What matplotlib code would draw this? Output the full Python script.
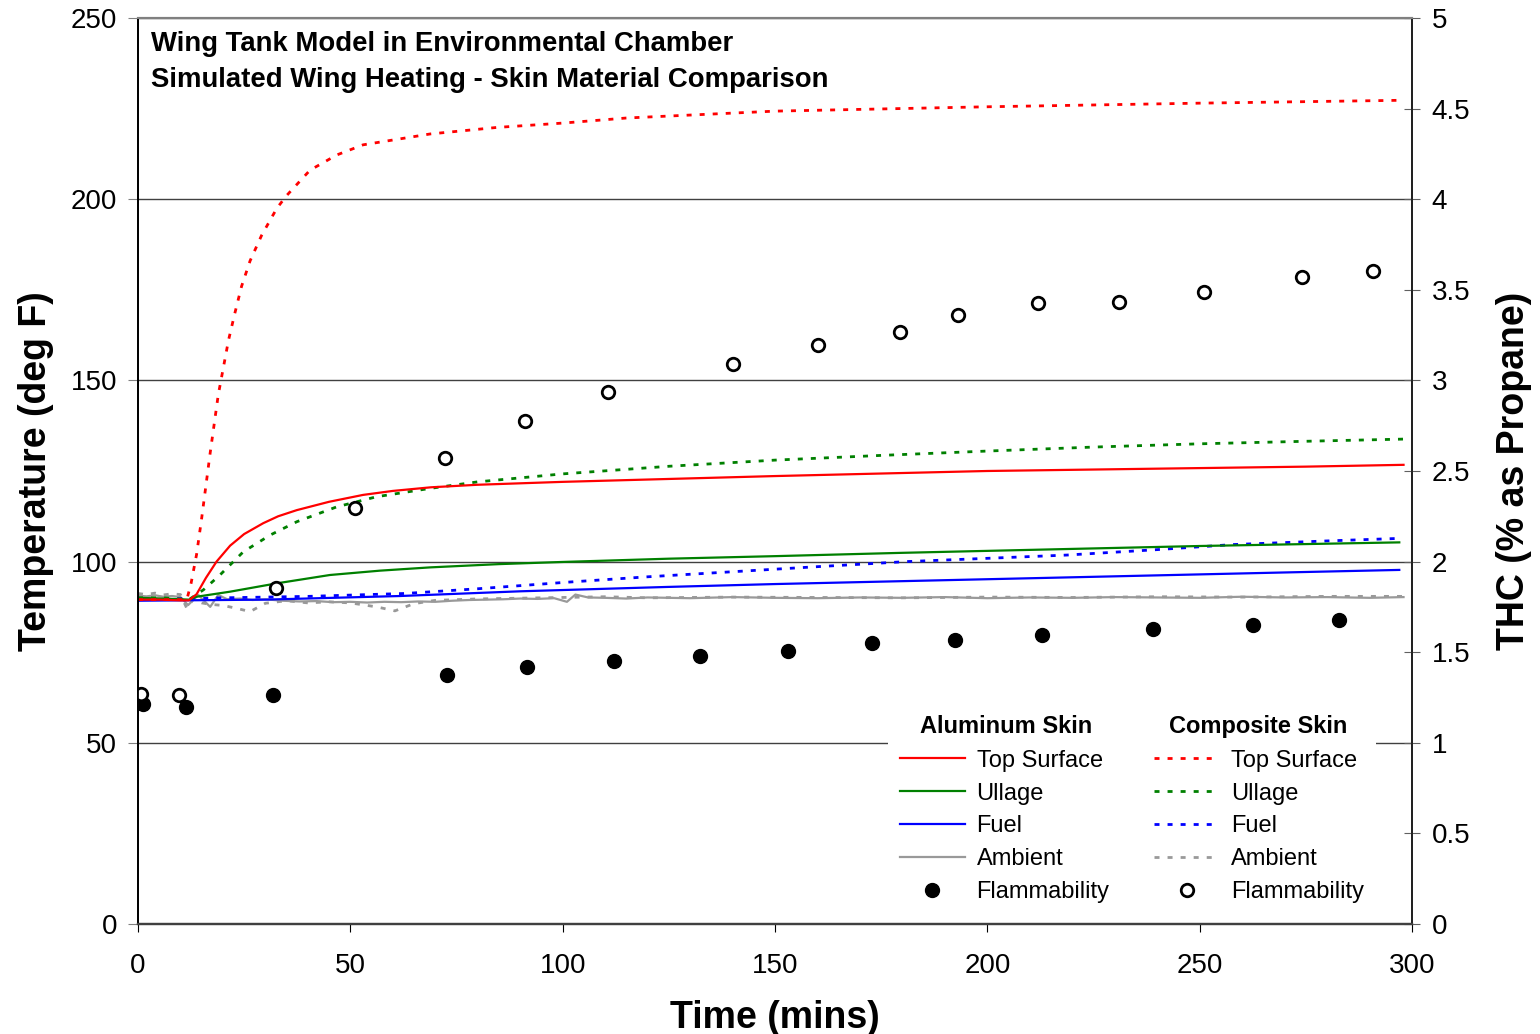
import numpy as np
from matplotlib import pyplot as plt
from matplotlib.lines import Line2D

plt.rcParams["font.family"] = ["Liberation Sans", "DejaVu Sans"]

# ---- data (time in mins, temperature in deg F, THC in %)
al_top_t = [0, 5, 10, 12, 13.8, 16, 18.5, 21.7, 25, 29.5, 33, 37.4, 45, 53, 60, 69, 80, 100, 125, 150, 175, 200, 225, 250, 275, 298]
al_top = [89.5, 89.5, 89.3, 89.3, 91, 95.5, 100, 104.4, 107.6, 110.6, 112.5, 114.2, 116.5, 118.4, 119.5, 120.5, 121.2, 122, 122.8, 123.6, 124.3, 125, 125.4, 125.8, 126.2, 126.7]

co_top_t = [0, 6, 11.5, 12.5, 13.8, 15, 16, 17, 18.9, 21.3, 22.8, 24.4, 26.4, 29.1, 32.7, 35, 40.5, 46.8, 53, 62.5, 68.8, 84.5, 100, 115, 150, 200, 250, 298]
co_top = [89.5, 89.5, 89.5, 94, 102, 112, 121, 130, 146, 161, 168.5, 176, 183, 190, 197.5, 201, 208, 212.2, 215, 216.8, 218, 219.8, 221, 222.4, 224.3, 225.5, 226.5, 227.3]

al_ull_t = [0, 6, 12, 13.8, 21.7, 32.7, 45.2, 57, 68.8, 85, 100, 125, 150, 179.4, 220, 250, 297]
al_ull = [90, 89.8, 89.5, 90.3, 91.7, 94, 96.3, 97.5, 98.4, 99.3, 99.9, 100.8, 101.5, 102.4, 103.5, 104.3, 105.3]

co_ull_t = [0, 6, 12, 15.4, 19.3, 24.8, 31.1, 37.4, 46.8, 56.2, 68.8, 80, 100, 125, 150, 175, 200, 225, 250, 275, 298]
co_ull = [90, 90, 89.5, 92.2, 96.3, 102.7, 107.3, 111, 115.1, 117.9, 120.2, 122, 124.2, 126.3, 128, 129.3, 130.5, 131.6, 132.5, 133.2, 133.8]

al_fuel_t = [0, 30, 61.7, 90, 124.5, 150, 180, 210, 240, 270, 297]
al_fuel = [89.2, 89.5, 90.5, 91.8, 93.0, 93.8, 94.6, 95.4, 96.2, 97.0, 97.7]

co_fuel_t = [0, 20, 40, 62.9, 80, 100.9, 120, 140, 160, 181, 200, 218.7, 240, 257.9, 280, 297]
co_fuel = [89.5, 90, 90.4, 91.2, 92.5, 94.3, 95.8, 97.2, 98.6, 100, 100.9, 101.8, 103.3, 104.7, 105.7, 106.4]

al_amb_t = [0, 2, 4, 6, 8, 10, 11.8, 14.2, 17, 18.9, 21, 24, 27, 30, 34, 38, 42, 46, 50, 54, 58, 62, 66, 70,
            74, 78, 82, 86, 90, 94, 98, 101, 103, 106, 110, 115, 120, 130, 140, 150, 160, 170, 180, 190,
            200, 210, 220, 230, 240, 250, 260, 270, 280, 290, 298]
al_amb = [90.6, 90.4, 90.7, 90.3, 90.5, 90.2, 88.0, 90.8, 87.5, 90.8, 89.6, 89.8, 89.4, 89.6, 89.2, 89.0, 89.1,
          88.8, 88.9, 88.7, 88.9, 88.8, 89.0, 88.9, 89.2, 89.4, 89.5, 89.6, 89.8, 89.7, 89.9, 88.9, 90.9,
          90.1, 90.0, 89.8, 90.1, 89.9, 90.2, 90.0, 89.9, 90.1, 90.0, 90.2, 89.9, 90.1, 90.0, 90.2, 90.1,
          90.0, 90.3, 90.1, 90.2, 90.0, 90.2]

co_amb_t = [0, 2, 4, 6, 8, 10, 11.5, 13, 15, 17, 20, 23.2, 26.4, 30, 35, 40, 45, 50, 56.2, 60.5, 65, 70, 75,
            80, 90, 100, 110, 120, 140, 160, 180, 200, 220, 240, 260, 280, 298]
co_amb = [91.2, 90.9, 91.3, 90.8, 91.1, 90.9, 87.1, 89.6, 88.6, 88.2, 87.9, 87.1, 86.2, 88.5, 89.2, 88.6, 88.9,
          88.6, 87.5, 86.4, 88.4, 89.3, 89.5, 89.7, 89.9, 90.1, 90.3, 90.0, 90.2, 90.1, 90.0, 90.2, 90.1,
          90.3, 90.2, 90.4, 90.4]

al_flam_t = [1.2, 11.3, 31.8, 72.8, 91.6, 112.1, 132.3, 153, 172.8, 192.4, 212.9, 239, 262.6, 282.8]
al_flam = [1.214, 1.198, 1.264, 1.374, 1.418, 1.452, 1.48, 1.506, 1.55, 1.568, 1.594, 1.628, 1.65, 1.678]

co_flam_t = [0.7, 9.7, 32.5, 51.1, 72.3, 91.1, 110.7, 140.1, 160.1, 179.4, 193.1, 211.9, 231, 251, 274.1, 290.8]
co_flam = [1.27, 1.264, 1.854, 2.296, 2.572, 2.776, 2.936, 3.09, 3.196, 3.268, 3.36, 3.428, 3.432, 3.488, 3.57, 3.604]

temp_ticks = [0, 50, 100, 150, 200, 250]
thc_ticks = [0, 0.5, 1, 1.5, 2, 2.5, 3, 3.5, 4, 4.5, 5]
time_ticks = [0, 50, 100, 150, 200, 250, 300]

RED, GREEN, BLUE, GREY = "#FF0000", "#008000", "#0000FF", "#999999"
DOT = (0, (1.8, 2.9))

fig = plt.figure(figsize=(15.4, 10.34), dpi=100)
ax = fig.add_axes([0.0896, 0.1064, 0.8273, 0.8762])
ax2 = ax.twinx()

# grid first so lines sit on top
ax.set_axisbelow(True)
ax.yaxis.grid(True, color="#404040", linewidth=1.0)

lw = 1.6
h_al_amb, = ax.plot(al_amb_t, al_amb, color=GREY, lw=lw)
h_co_amb, = ax.plot(co_amb_t, co_amb, color=GREY, lw=2.0, ls=DOT)
h_al_fuel, = ax.plot(al_fuel_t, al_fuel, color=BLUE, lw=lw)
h_co_fuel, = ax.plot(co_fuel_t, co_fuel, color=BLUE, lw=2.0, ls=DOT)
h_al_ull, = ax.plot(al_ull_t, al_ull, color=GREEN, lw=lw)
h_co_ull, = ax.plot(co_ull_t, co_ull, color=GREEN, lw=2.0, ls=DOT)
h_al_top, = ax.plot(al_top_t, al_top, color=RED, lw=lw)
h_co_top, = ax.plot(co_top_t, co_top, color=RED, lw=2.0, ls=DOT)

h_al_flam, = ax2.plot(al_flam_t, al_flam, ls="none", marker="o", ms=10, color="black")
h_co_flam, = ax2.plot(co_flam_t, co_flam, ls="none", marker="o", ms=9, mfc="white",
                      mec="black", mew=2)

ax.set_xlim(0, 300)
ax.set_ylim(0, 250)
ax2.set_ylim(0, 5)
ax.set_xticks(time_ticks)
ax.set_yticks(temp_ticks)
ax2.set_yticks(thc_ticks)
ax2.set_yticklabels([f"{v:g}" for v in thc_ticks])

ax.tick_params(axis="y", direction="out", length=7, color="#808080", labelsize=20, pad=8)
ax.tick_params(axis="x", direction="out", length=6, color="#000000", labelsize=20, pad=15)
ax2.tick_params(axis="y", direction="inout", length=12, color="#606060", labelsize=20, pad=8)

for a in (ax, ax2):
    a.spines["left"].set_color("black")
    a.spines["right"].set_color("#202020")
    a.spines["top"].set_color("#808080")
    a.spines["bottom"].set_color("#404040")
    a.spines["left"].set_linewidth(1.3)
    a.spines["right"].set_linewidth(1.3)
    a.spines["top"].set_linewidth(1.5)
    a.spines["bottom"].set_linewidth(1.6)

ax.set_xlabel("Time (mins)", fontsize=27, fontweight="bold", labelpad=15)
ax.set_ylabel("Temperature (deg F)", fontsize=27, fontweight="bold", labelpad=12)
ax2.set_ylabel("THC (% as Propane)", fontsize=27, fontweight="bold", labelpad=19)

ax.text(0.0102, 0.986, "Wing Tank Model in Environmental Chamber\nSimulated Wing Heating - Skin Material Comparison",
        transform=ax.transAxes, ha="left", va="top", fontsize=19.8, fontweight="bold", linespacing=1.5)

blank = Line2D([], [], ls="none")
handles = [blank, h_al_top, h_al_ull, h_al_fuel, h_al_amb, h_al_flam,
           blank, h_co_top, h_co_ull, h_co_fuel, h_co_amb, h_co_flam]
labels = ["", "Top Surface", "Ullage", "Fuel", "Ambient", "Flammability",
          "", "Top Surface", "Ullage", "Fuel", "Ambient", "Flammability"]
leg = ax2.legend(handles, labels, ncol=2, loc="upper left", bbox_to_anchor=(0.5887, 0.2417),
                 borderaxespad=0, borderpad=0.5, frameon=True, facecolor="white", edgecolor="none",
                 framealpha=1, fancybox=False, fontsize=17, handlelength=2.75, handletextpad=0.5,
                 labelspacing=0.46, columnspacing=1.9, numpoints=1, markerscale=1.0)

ax2.text(0.6813, 0.2185, "Aluminum Skin", transform=ax.transAxes, ha="center", va="center",
         fontsize=17, fontweight="bold", zorder=10)
ax2.text(0.8791, 0.2185, "Composite Skin", transform=ax.transAxes, ha="center", va="center",
         fontsize=17, fontweight="bold", zorder=10)

fig.savefig("out.png", dpi=100)
